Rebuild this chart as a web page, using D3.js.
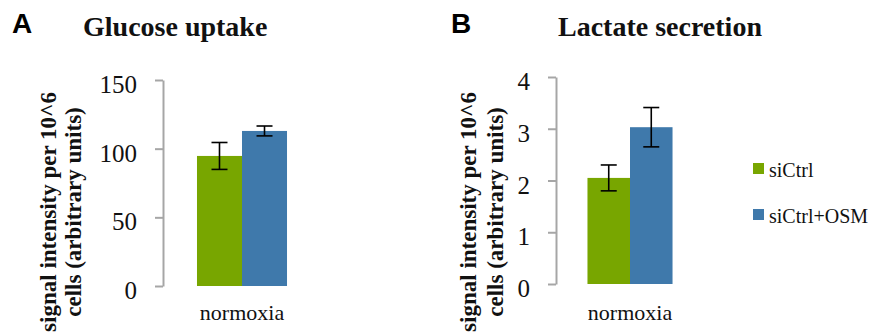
<!DOCTYPE html>
<html>
  <head>
    <title>Glucose uptake / Lactate secretion</title>
    <script type="text/javascript" src="https://d3js.org/d3.v7.min.js"></script>
    <style>
      body { margin: 0; background: #fff; }
      .axis path, .axis line { stroke: #a6a6a6; stroke-width: 2; }
      .axis text { font-family: "Liberation Serif", serif; font-size: 25px; fill: #111; }
      .serif { font-family: "Liberation Serif", serif; fill: #111; }
    </style>
  </head>
  <body>
    <svg width="872" height="334"></svg>
    <script type="text/javascript">
      var categories = ['normoxia'];
      var series = ['siCtrl', 'siCtrl+OSM'];
      var colors = ['#78a600', '#3f79ab'];

      // panel A: glucose uptake
      var glucoseMean = [94.7, 112.9];
      var glucoseErr = [9.8, 3.6];
      var glucoseTicks = [0, 50, 100, 150];

      // panel B: lactate secretion
      var lactateMean = [2.05, 3.03];
      var lactateErr = [0.25, 0.38];
      var lactateTicks = [0, 1, 2, 3, 4];

      var svg = d3.select('svg');

      function panel(opt) {
        var y = d3.scaleLinear()
                  .domain([0, opt.ticks[opt.ticks.length - 1]])
                  .range([opt.bottom, opt.top]);
        var x0 = d3.scaleBand()
                   .domain(categories)
                   .range([opt.axisX, opt.axisX + opt.bandW]);
        var x1 = d3.scaleBand()
                   .domain(series)
                   .range([0, x0.bandwidth()])
                   .paddingOuter(opt.outer);

        var g = svg.append('g');

        g.append('g')
         .attr('class', 'axis')
         .attr('transform', 'translate(' + opt.axisX + ',0)')
         .call(d3.axisLeft(y).tickValues(opt.ticks).tickFormat(d3.format('d'))
                 .tickSize(8).tickSizeOuter(0).tickPadding(18))
         .call(function(a) {
           a.selectAll('text').attr('dy', '0.5em');
         });

        var rows = series.map(function(s, i) {
          return { series: s, cat: categories[0], mean: opt.mean[i], err: opt.err[i], color: colors[i] };
        });

        g.selectAll('rect.bar')
         .data(rows)
         .enter()
         .append('rect')
         .attr('class', 'bar')
         .attr('x', function(d) { return x0(d.cat) + x1(d.series); })
         .attr('width', x1.bandwidth())
         .attr('y', function(d) { return y(d.mean); })
         .attr('height', function(d) { return y(0) - y(d.mean); })
         .attr('fill', function(d) { return d.color; });

        // error bars
        var eb = g.selectAll('g.err')
                  .data(rows)
                  .enter()
                  .append('g')
                  .attr('class', 'err')
                  .attr('stroke', '#000')
                  .attr('stroke-width', 1.6);
        var cx = function(d) { return x0(d.cat) + x1(d.series) + x1.bandwidth() / 2; };
        eb.append('line')
          .attr('x1', cx).attr('x2', cx)
          .attr('y1', function(d) { return y(d.mean + d.err); })
          .attr('y2', function(d) { return y(d.mean - d.err); });
        [1, -1].forEach(function(s) {
          eb.append('line')
            .attr('x1', function(d) { return cx(d) - 8; })
            .attr('x2', function(d) { return cx(d) + 8; })
            .attr('y1', function(d) { return y(d.mean + s * d.err); })
            .attr('y2', function(d) { return y(d.mean + s * d.err); });
        });

        g.selectAll('text.cat')
         .data(categories)
         .enter()
         .append('text')
         .attr('class', 'serif')
         .attr('x', function(d) { return x0(d) + x0.bandwidth() / 2; })
         .attr('y', 320)
         .attr('text-anchor', 'middle')
         .style('font-size', '22px')
         .text(function(d) { return d; });

        // y label, two lines
        var ylab = g.append('text')
                    .attr('class', 'serif')
                    .attr('transform', 'translate(' + opt.labX + ',212) rotate(-90)')
                    .attr('text-anchor', 'middle')
                    .style('font-size', '23px')
                    .style('font-weight', 'bold');
        ylab.append('tspan').attr('x', 0).attr('y', 0).text('signal intensity per 10^6');
        ylab.append('tspan').attr('x', 0).attr('y', opt.labGap).text('cells (arbitrary units)');

        g.append('text')
         .attr('class', 'serif')
         .attr('x', opt.titleX)
         .attr('y', 36)
         .style('font-size', '28px')
         .style('font-weight', 'bold')
         .text(opt.title);

        g.append('text')
         .attr('x', opt.letterX)
         .attr('y', 33)
         .style('font-family', '"Liberation Sans", Arial, sans-serif')
         .style('font-size', '28px')
         .style('font-weight', 'bold')
         .text(opt.letter);
      }

      panel({ ticks: glucoseTicks, mean: glucoseMean, err: glucoseErr,
              top: 80, bottom: 286, axisX: 163, bandW: 158, outer: 0.755,
              labX: 56, labGap: 25, title: 'Glucose uptake', titleX: 83,
              letter: 'A', letterX: 12 });

      panel({ ticks: lactateTicks, mean: lactateMean, err: lactateErr,
              top: 77, bottom: 284, axisX: 556, bandW: 148, outer: 0.74,
              labX: 476, labGap: 27, title: 'Lactate secretion', titleX: 558,
              letter: 'B', letterX: 451 });

      // legend
      var legend = svg.append('g').attr('class', 'legend');
      var li = legend.selectAll('g')
                     .data(series)
                     .enter()
                     .append('g')
                     .attr('transform', function(d, i) { return 'translate(753,' + (163 + i * 46) + ')'; });
      li.append('rect')
        .attr('width', 11)
        .attr('height', 11)
        .attr('fill', function(d, i) { return colors[i]; });
      li.append('text')
        .attr('class', 'serif')
        .attr('x', 16)
        .attr('y', 14)
        .style('font-size', '20px')
        .text(function(d) { return d; });
    </script>
  </body>
</html>
